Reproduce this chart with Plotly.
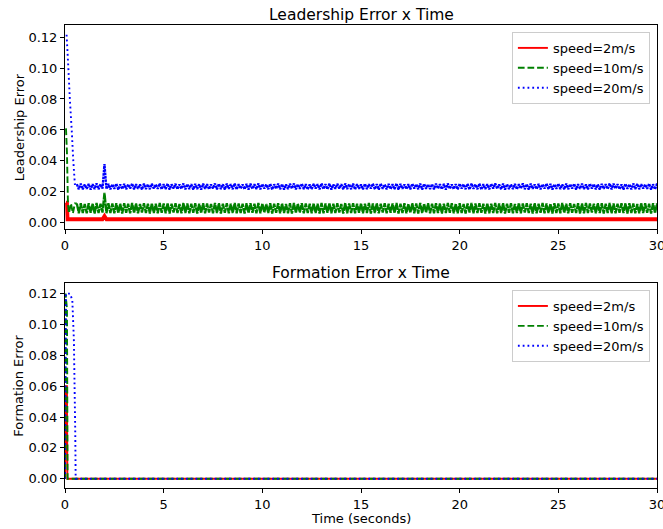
import numpy as np
import plotly.graph_objects as go

# ---------------- data ----------------
series_names = ["speed=2m/s", "speed=10m/s", "speed=20m/s"]
x_ticks = [0, 5, 10, 15, 20, 25, 30]
y_ticks = [0.00, 0.02, 0.04, 0.06, 0.08, 0.10, 0.12]

# steady-state sampling grid (seconds), one sample every 0.1 s from 0.6 s
ss_start = 0.6
ss_step = 0.1

# Leadership error, speed=2m/s
lead_red_t = [0.05, 0.10, 0.13, 1.90, 2.00, 2.10, 30.0]
lead_red_v = [0.0130, 0.0130, 0.0023, 0.0023, 0.0043, 0.0023, 0.0023]

# Leadership error, speed=10m/s
lead_green_t0 = [0.05, 0.10, 0.15, 0.20, 0.30, 0.40, 0.50]
lead_green_v0 = [0.0610, 0.0450, 0.0120, 0.0062, 0.0126, 0.0061, 0.0125]
lead_green_ss = [
    0.0125,0.0062,0.0127,0.0064,0.0122,0.0061,0.0126,0.0065,0.0124,0.0060,0.0128,0.0063,0.0123,0.0066,0.0194,0.0062,0.0126,0.0064,0.0125,0.0061,
    0.0127,0.0063,0.0124,0.0060,0.0126,0.0065,0.0123,0.0062,0.0128,0.0064,0.0125,0.0061,0.0122,0.0066,0.0127,0.0063,0.0124,0.0060,0.0126,0.0064,
    0.0123,0.0061,0.0128,0.0065,0.0125,0.0062,0.0127,0.0060,0.0124,0.0066,0.0126,0.0063,0.0122,0.0061,0.0128,0.0064,0.0125,0.0062,0.0123,0.0065,
    0.0126,0.0060,0.0124,0.0063,0.0127,0.0061,0.0125,0.0066,0.0122,0.0062,0.0128,0.0064,0.0126,0.0060,0.0123,0.0065,0.0127,0.0061,0.0124,0.0063,
    0.0128,0.0062,0.0125,0.0064,0.0123,0.0060,0.0126,0.0063,0.0127,0.0065,0.0124,0.0061,0.0128,0.0062,0.0125,0.0066,0.0122,0.0064,0.0126,0.0060,
    0.0124,0.0065,0.0127,0.0061,0.0125,0.0063,0.0122,0.0062,0.0126,0.0060,0.0128,0.0064,0.0123,0.0066,0.0127,0.0061,0.0125,0.0063,0.0124,0.0062,
    0.0126,0.0064,0.0123,0.0060,0.0128,0.0062,0.0125,0.0065,0.0127,0.0061,0.0124,0.0063,0.0126,0.0066,0.0122,0.0060,0.0128,0.0062,0.0125,0.0064,
    0.0127,0.0061,0.0124,0.0065,0.0126,0.0062,0.0123,0.0064,0.0128,0.0060,0.0125,0.0063,0.0127,0.0061,0.0124,0.0066,0.0126,0.0062,0.0123,0.0065,
    0.0125,0.0063,0.0128,0.0060,0.0124,0.0064,0.0126,0.0061,0.0122,0.0065,0.0127,0.0062,0.0125,0.0060,0.0128,0.0063,0.0123,0.0066,0.0126,0.0061,
    0.0124,0.0062,0.0127,0.0064,0.0125,0.0060,0.0123,0.0063,0.0128,0.0065,0.0126,0.0061,0.0124,0.0062,0.0127,0.0064,0.0122,0.0060,0.0125,0.0066,
    0.0128,0.0061,0.0125,0.0063,0.0127,0.0065,0.0124,0.0060,0.0126,0.0062,0.0123,0.0064,0.0128,0.0061,0.0125,0.0063,0.0127,0.0060,0.0124,0.0065,
    0.0126,0.0062,0.0122,0.0064,0.0128,0.0061,0.0125,0.0066,0.0127,0.0063,0.0124,0.0060,0.0126,0.0062,0.0123,0.0065,0.0128,0.0061,0.0125,0.0064,
    0.0123,0.0060,0.0127,0.0063,0.0125,0.0062,0.0128,0.0064,0.0124,0.0061,0.0126,0.0065,0.0122,0.0063,0.0127,0.0060,0.0125,0.0062,0.0128,0.0064,
    0.0125,0.0066,0.0124,0.0061,0.0127,0.0063,0.0126,0.0060,0.0123,0.0064,0.0128,0.0062,0.0125,0.0061,0.0124,0.0065,0.0127,0.0063,0.0126,0.0060,
    0.0127,0.0064,0.0125,0.0062,0.0122,0.0061,0.0128,0.0063,0.0126,0.0065,0.0124,0.0060,0.0127,0.0062,0.0125,0.0064,0.0123,0.0061,0.0126,0.0063,
]

# Leadership error, speed=20m/s
lead_blue_t0 = [0.08, 0.17, 0.25, 0.34, 0.42, 0.50]
lead_blue_v0 = [0.1215, 0.1000, 0.0790, 0.0600, 0.0400, 0.0250]
lead_blue_ss = [
    0.0250,0.0217,0.0253,0.0216,0.0248,0.0220,0.0252,0.0215,0.0249,0.0218,0.0254,0.0217,0.0250,0.0221,0.0380,0.0218,0.0252,0.0216,0.0249,0.0220,
    0.0253,0.0215,0.0248,0.0218,0.0252,0.0217,0.0249,0.0221,0.0254,0.0216,0.0250,0.0220,0.0248,0.0215,0.0253,0.0218,0.0249,0.0217,0.0252,0.0221,
    0.0248,0.0220,0.0254,0.0216,0.0250,0.0218,0.0253,0.0215,0.0249,0.0221,0.0252,0.0217,0.0248,0.0220,0.0254,0.0216,0.0250,0.0218,0.0249,0.0215,
    0.0252,0.0218,0.0249,0.0215,0.0253,0.0220,0.0250,0.0217,0.0248,0.0221,0.0254,0.0216,0.0252,0.0218,0.0249,0.0215,0.0253,0.0220,0.0250,0.0217,
    0.0254,0.0216,0.0250,0.0221,0.0248,0.0217,0.0252,0.0215,0.0253,0.0220,0.0249,0.0218,0.0254,0.0216,0.0250,0.0221,0.0248,0.0217,0.0252,0.0215,
    0.0249,0.0220,0.0253,0.0217,0.0250,0.0215,0.0248,0.0218,0.0252,0.0221,0.0254,0.0216,0.0249,0.0220,0.0253,0.0217,0.0250,0.0215,0.0248,0.0218,
    0.0252,0.0221,0.0249,0.0216,0.0254,0.0218,0.0250,0.0217,0.0253,0.0215,0.0248,0.0220,0.0252,0.0221,0.0249,0.0216,0.0254,0.0218,0.0250,0.0217,
    0.0253,0.0215,0.0250,0.0220,0.0248,0.0216,0.0252,0.0218,0.0249,0.0221,0.0253,0.0217,0.0250,0.0215,0.0254,0.0220,0.0248,0.0216,0.0252,0.0218,
    0.0249,0.0217,0.0254,0.0215,0.0252,0.0220,0.0248,0.0218,0.0250,0.0216,0.0253,0.0221,0.0249,0.0217,0.0254,0.0215,0.0252,0.0220,0.0248,0.0218,
    0.0250,0.0216,0.0253,0.0221,0.0249,0.0217,0.0252,0.0215,0.0254,0.0220,0.0248,0.0218,0.0250,0.0216,0.0253,0.0221,0.0249,0.0217,0.0252,0.0215,
    0.0254,0.0220,0.0248,0.0217,0.0253,0.0215,0.0250,0.0218,0.0249,0.0216,0.0252,0.0221,0.0254,0.0220,0.0248,0.0217,0.0253,0.0215,0.0250,0.0218,
    0.0248,0.0218,0.0252,0.0216,0.0249,0.0221,0.0254,0.0217,0.0250,0.0215,0.0253,0.0220,0.0248,0.0218,0.0252,0.0216,0.0249,0.0221,0.0254,0.0217,
    0.0252,0.0215,0.0249,0.0220,0.0253,0.0218,0.0248,0.0216,0.0254,0.0217,0.0250,0.0221,0.0252,0.0215,0.0249,0.0220,0.0253,0.0218,0.0248,0.0216,
    0.0253,0.0221,0.0250,0.0217,0.0248,0.0215,0.0252,0.0220,0.0249,0.0218,0.0254,0.0216,0.0253,0.0221,0.0250,0.0217,0.0248,0.0215,0.0252,0.0220,
    0.0249,0.0216,0.0254,0.0218,0.0252,0.0217,0.0250,0.0221,0.0248,0.0220,0.0253,0.0215,0.0249,0.0216,0.0254,0.0218,0.0252,0.0217,0.0250,0.0221,
]

# Formation error
form_red_t = [0.00, 0.05, 0.10, 0.12, 30.0]
form_red_v = [0.000, 0.060, 0.060, 0.000, 0.000]
form_green_t = [0.00, 0.03, 0.10, 0.13, 30.0]
form_green_v = [0.000, 0.120, 0.110, 0.000, 0.000]
form_blue_t = [0.00, 0.05, 0.25, 0.37, 0.45, 0.52, 0.54, 30.0]
form_blue_v = [0.000, 0.120, 0.120, 0.116, 0.090, 0.030, 0.000, 0.000]

# ---------------- build ----------------
def ss_times(n):
    return list(np.round(ss_start + ss_step * np.arange(n), 2))

green_ss_t = ss_times(len(lead_green_ss))
blue_ss_t = ss_times(len(lead_blue_ss))

RED, GREEN, BLUE = "#ff0000", "#008000", "#0000ff"
DASH = "6.7px,2.9px"
DOT = "1.8px,3px"
# the dense steady-state oscillation renders as an almost solid band in the reference
DASH_DENSE = "8px,0.8px"
DOT_DENSE = "2.6px,0.8px"
FONT = "DejaVu Sans"
TICK = 13

fig = go.Figure()

def add(t, v, name, color, dash, width, xa, ya, legend, showlegend=True):
    fig.add_trace(go.Scatter(
        x=t, y=v, mode="lines", name=name, xaxis=xa, yaxis=ya, legend=legend,
        showlegend=showlegend,
        line=dict(color=color, dash=dash, width=width, simplify=False), hoverinfo="skip"))

# top panel
add(lead_red_t, lead_red_v, series_names[0], RED, "solid", 3.8, "x", "y", "legend", showlegend=False)
add(green_ss_t, lead_green_ss, series_names[1], GREEN, DASH_DENSE, 2.3, "x", "y", "legend", showlegend=False)
add(lead_green_t0 + green_ss_t[:1], lead_green_v0 + lead_green_ss[:1], series_names[1], GREEN, DASH, 1.9,
    "x", "y", "legend", showlegend=False)
add(blue_ss_t, lead_blue_ss, series_names[2], BLUE, DOT_DENSE, 2.3, "x", "y", "legend", showlegend=False)
add(lead_blue_t0 + blue_ss_t[:1], lead_blue_v0 + lead_blue_ss[:1], series_names[2], BLUE, DOT, 1.9,
    "x", "y", "legend", showlegend=False)
add([None], [None], series_names[0], RED, "solid", 1.9, "x", "y", "legend")
add([None], [None], series_names[1], GREEN, DASH, 1.9, "x", "y", "legend")
add([None], [None], series_names[2], BLUE, DOT, 1.9, "x", "y", "legend")

# bottom panel
add(form_red_t, form_red_v, series_names[0], RED, "solid", 1.9, "x2", "y2", "legend2")
add(form_green_t, form_green_v, series_names[1], GREEN, DASH, 1.9, "x2", "y2", "legend2")
add(form_blue_t, form_blue_v, series_names[2], BLUE, DOT, 1.9, "x2", "y2", "legend2")

axis_common = dict(
    showline=True, mirror=True, linecolor="black", linewidth=1,
    ticks="outside", ticklen=4, tickwidth=1, tickcolor="black",
    showgrid=False, zeroline=False, automargin=False,
    tickfont=dict(family=FONT, size=TICK, color="black"),
)

top_dom = [0.5587, 1.0]
bot_dom = [0.0, 0.4421]

fig.update_layout(
    width=663, height=529,
    margin=dict(l=65, r=6, t=25, b=41),
    paper_bgcolor="white", plot_bgcolor="white",
    font=dict(family=FONT, size=TICK, color="black"),
    xaxis=dict(axis_common, range=[0, 30], tickvals=x_ticks, anchor="y", domain=[0, 1],
               ticklabeloverflow="allow"),
    yaxis=dict(axis_common, range=[-0.0042, 0.1278], tickvals=y_ticks, tickformat=".2f",
               domain=top_dom, anchor="x"),
    xaxis2=dict(axis_common, range=[0, 30], tickvals=x_ticks, anchor="y2", domain=[0, 1],
                ticklabeloverflow="allow"),
    yaxis2=dict(axis_common, range=[-0.0060, 0.1267], tickvals=y_ticks, tickformat=".2f",
                domain=bot_dom, anchor="x2"),
    legend=dict(x=0.988, y=0.985, xanchor="right", yanchor="top",
                bgcolor="rgba(255,255,255,0.8)", bordercolor="#cccccc", borderwidth=1,
                tracegroupgap=0, itemwidth=30,
                font=dict(family=FONT, size=TICK, color="black")),
    legend2=dict(x=0.988, y=0.4276, xanchor="right", yanchor="top",
                 bgcolor="rgba(255,255,255,0.8)", bordercolor="#cccccc", borderwidth=1,
                 tracegroupgap=0, itemwidth=30,
                 font=dict(family=FONT, size=TICK, color="black")),
    annotations=[
        dict(text="Leadership Error x Time", xref="paper", yref="paper", x=0.5, y=top_dom[1],
             xanchor="center", yanchor="bottom", yshift=-1, showarrow=False,
             font=dict(family=FONT, size=15.5, color="black")),
        dict(text="Formation Error x Time", xref="paper", yref="paper", x=0.5, y=bot_dom[1],
             xanchor="center", yanchor="bottom", yshift=-1, showarrow=False,
             font=dict(family=FONT, size=15.5, color="black")),
        dict(text="Leadership Error", xref="paper", yref="paper", x=0,
             y=(top_dom[0] + top_dom[1]) / 2, xshift=-46, textangle=-90,
             xanchor="center", yanchor="middle", showarrow=False,
             font=dict(family=FONT, size=TICK, color="black")),
        dict(text="Formation Error", xref="paper", yref="paper", x=0,
             y=(bot_dom[0] + bot_dom[1]) / 2, xshift=-46, textangle=-90,
             xanchor="center", yanchor="middle", showarrow=False,
             font=dict(family=FONT, size=TICK, color="black")),
        dict(text="Time (seconds)", xref="paper", yref="paper", x=0.5, y=0,
             yshift=-30, xanchor="center", yanchor="middle", showarrow=False,
             font=dict(family=FONT, size=TICK, color="black")),
    ],
)

# remove the browser's default 8px page margin so the 663x529 figure fills the window exactly
fig.write_html("out.html", config={"displayModeBar": False},
               post_script="document.body.style.margin='0';")
